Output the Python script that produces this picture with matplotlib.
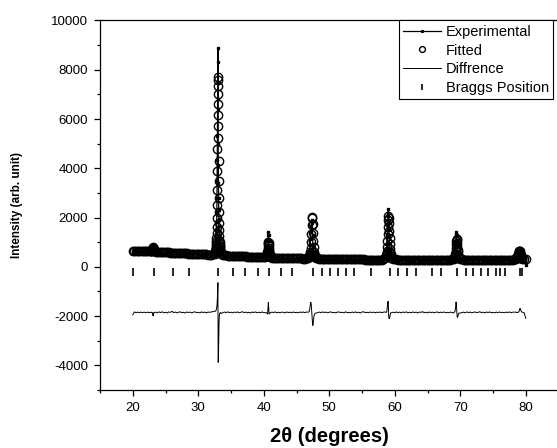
import numpy as np
import matplotlib
matplotlib.use("Agg")
import matplotlib.pyplot as plt
from matplotlib.ticker import MultipleLocator

plt.rcParams['font.family'] = ['Liberation Sans', 'DejaVu Sans']
plt.rcParams['axes.unicode_minus'] = False

# ---------------- data ----------------
# background stretches between the reflections, 0.25 deg step
bg_tt = [
    20.00, 20.25, 20.50, 20.75, 21.00, 21.25, 21.50, 21.75, 22.00, 22.25, 22.50, 22.75,
    23.50, 23.75, 24.00, 24.25, 24.50, 24.75, 25.00, 25.25, 25.50, 25.75, 26.00, 26.25,
    26.50, 26.75, 27.00, 27.25, 27.50, 27.75, 28.00, 28.25, 28.50, 28.75, 29.00, 29.25,
    29.50, 29.75, 30.00, 30.25, 30.50, 30.75, 31.00, 31.25, 31.50, 31.75, 32.00, 32.25, 32.50,
    33.50, 33.75, 34.00, 34.25, 34.50, 34.75, 35.00, 35.25, 35.50, 35.75, 36.00, 36.25,
    36.50, 36.75, 37.00, 37.25, 37.50, 37.75, 38.00, 38.25, 38.50, 38.75, 39.00, 39.25,
    39.50, 39.75, 40.00, 40.25,
    41.00, 41.25, 41.50, 41.75, 42.00, 42.25, 42.50, 42.75, 43.00, 43.25, 43.50, 43.75,
    44.00, 44.25, 44.50, 44.75, 45.00, 45.25, 45.50, 45.75, 46.00, 46.25, 46.50, 46.75,
    48.00, 48.25, 48.50, 48.75, 49.00, 49.25, 49.50, 49.75, 50.00, 50.25, 50.50, 50.75,
    51.00, 51.25, 51.50, 51.75, 52.00, 52.25, 52.50, 52.75, 53.00, 53.25, 53.50, 53.75,
    54.00, 54.25, 54.50, 54.75, 55.00, 55.25, 55.50, 55.75, 56.00, 56.25, 56.50, 56.75,
    57.00, 57.25, 57.50, 57.75, 58.00, 58.25, 58.50,
    59.50, 59.75, 60.00, 60.25, 60.50, 60.75, 61.00, 61.25, 61.50, 61.75, 62.00, 62.25,
    62.50, 62.75, 63.00, 63.25, 63.50, 63.75, 64.00, 64.25, 64.50, 64.75, 65.00, 65.25,
    65.50, 65.75, 66.00, 66.25, 66.50, 66.75, 67.00, 67.25, 67.50, 67.75, 68.00, 68.25,
    68.50, 68.75, 69.00,
    70.00, 70.25, 70.50, 70.75, 71.00, 71.25, 71.50, 71.75, 72.00, 72.25, 72.50, 72.75,
    73.00, 73.25, 73.50, 73.75, 74.00, 74.25, 74.50, 74.75, 75.00, 75.25, 75.50, 75.75,
    76.00, 76.25, 76.50, 76.75, 77.00, 77.25, 77.50, 77.75, 78.00, 78.25, 78.50,
    79.50, 79.75, 80.00,
]
bg_obs = [
    550, 668, 632, 655, 628, 650, 622, 641, 615, 640, 611, 635,
    633, 589, 624, 593, 622, 579, 595, 565, 601, 582, 621, 563,
    584, 546, 570, 581, 543, 557, 523, 563, 535, 552, 514, 541,
    551, 510, 526, 499, 533, 505, 518, 481, 514, 499, 512, 544, 585,
    486, 473, 482, 449, 479, 446, 460, 427, 458, 436, 457, 418,
    439, 455, 414, 433, 400, 421, 390, 425, 401, 423, 386, 405,
    383, 410, 383, 402,
    389, 392, 366, 394, 355, 373, 347, 374, 364, 336, 374, 348,
    362, 334, 368, 336, 350, 322, 355, 335, 355, 324, 374, 383,
    340, 329, 339, 309, 340, 313, 332, 298, 323, 336, 299, 316,
    291, 322, 327, 300, 313, 290, 330, 295, 306, 285, 317, 296,
    321, 288, 308, 277, 314, 324, 287, 303, 282, 314, 287, 307,
    274, 304, 289, 309, 280, 322, 367,
    366, 335, 295, 318, 287, 301, 269, 305, 285, 311, 273, 295,
    277, 306, 282, 298, 266, 302, 290, 318, 276, 295, 269, 303,
    279, 299, 267, 293, 305, 273, 297, 281, 307, 271, 291, 277,
    311, 297, 310,
    290, 289, 305, 272, 308, 280, 302, 268, 294, 306, 277, 297,
    315, 275, 300, 272, 306, 284, 311, 277, 295, 272, 304, 285,
    311, 282, 300, 279, 309, 290, 316, 287, 305, 323, 342,
    340, 300, 70,
]
bg_calc = [
    650, 647, 645, 642, 640, 637, 634, 632, 629, 626, 623, 628,
    621, 607, 604, 601, 597, 594, 590, 587, 583, 580, 576, 573,
    569, 566, 562, 559, 555, 552, 548, 545, 541, 538, 534, 531,
    527, 524, 520, 517, 513, 510, 506, 503, 499, 496, 492, 509, 535,
    531, 488, 464, 461, 457, 454, 450, 447, 444, 440, 437, 434,
    431, 427, 424, 421, 418, 415, 412, 409, 406, 403, 400, 397,
    395, 392, 389, 412,
    409, 377, 374, 372, 369, 367, 365, 362, 360, 358, 356, 354,
    352, 350, 348, 346, 344, 342, 341, 339, 337, 336, 359, 373,
    365, 339, 323, 321, 320, 319, 318, 316, 315, 314, 313, 312,
    311, 310, 309, 308, 307, 306, 306, 305, 304, 303, 303, 302,
    301, 300, 300, 299, 298, 298, 297, 297, 296, 296, 295, 295,
    294, 294, 293, 293, 292, 312, 347,
    376, 327, 309, 298, 295, 289, 289, 289, 289, 289, 289, 289,
    289, 288, 288, 288, 288, 288, 288, 288, 288, 287, 287, 287,
    287, 287, 287, 287, 287, 287, 287, 287, 287, 287, 287, 287,
    297, 305, 330,
    315, 299, 293, 288, 288, 288, 288, 288, 288, 288, 289, 289,
    289, 289, 290, 290, 290, 290, 291, 291, 291, 292, 292, 293,
    293, 294, 294, 295, 295, 296, 296, 297, 297, 311, 332,
    333, 313, 310,
]

# reflections, finer steps
p23_tt = [22.80, 22.85, 22.90, 22.95, 23.00, 23.05, 23.10, 23.15, 23.20, 23.25, 23.30, 23.35, 23.40]
p23_obs = [640, 641, 652, 690, 712, 706, 656, 703, 712, 680, 655, 634, 628]
p23_calc = [634, 643, 659, 688, 730, 774, 796, 773, 727, 684, 654, 636, 627]

p33_tt = [32.60, 32.62, 32.64, 32.66, 32.68, 32.70, 32.72, 32.74, 32.76, 32.78,
          32.80, 32.82, 32.84, 32.86, 32.88, 32.90, 32.92, 32.94, 32.96, 32.98,
          33.00, 33.02, 33.04, 33.06, 33.08, 33.10, 33.12, 33.14, 33.16, 33.18,
          33.20, 33.22, 33.24, 33.26, 33.28, 33.30, 33.32, 33.34, 33.36, 33.38, 33.40]
p33_obs = [625, 675, 725, 780, 835, 895, 965, 1055, 1165, 1320,
           1530, 1830, 2230, 2780, 3470, 4330, 5320, 6400, 7450, 8330,
           8900, 6800, 5000, 4150, 3400, 2800, 2300, 1930, 1650, 1440,
           1280, 1140, 1030, 945, 880, 820, 770, 725, 680, 635, 590]
p33_calc = [584, 629, 673, 723, 772, 822, 882, 958, 1052, 1186,
            1370, 1637, 1998, 2490, 3112, 3884, 4766, 5721, 6625, 7339,
            7694, 7571, 7020, 6181, 5242, 4309, 3476, 2782, 2226, 1798,
            1487, 1263, 1108, 995, 915, 849, 794, 743, 693, 643, 592]

p40_tt = [40.43, 40.46, 40.49, 40.52, 40.55, 40.58, 40.61, 40.64, 40.67, 40.70,
          40.73, 40.76, 40.79, 40.82, 40.85, 40.88, 40.91, 40.94, 40.97]
p40_obs = [414, 428, 443, 470, 519, 617, 789, 1033, 1296, 1422,
           1295, 1032, 787, 614, 516, 466, 438, 423, 408]
p40_calc = [436, 452, 479, 521, 585, 671, 776, 886, 981, 1022,
            980, 885, 774, 668, 582, 517, 474, 447, 430]

p47_tt = [46.80, 46.85, 46.90, 46.95, 47.00, 47.05, 47.10, 47.15, 47.20, 47.25, 47.30, 47.35,
          47.40, 47.45, 47.50, 47.55, 47.60, 47.65, 47.70, 47.75, 47.80, 47.85, 47.90]
p47_obs = [390, 405, 430, 470, 560, 700, 900, 1150, 1400, 1640, 1820, 1900,
           1760, 1300, 860, 620, 500, 440, 400, 380, 370, 365, 360]
p47_calc = [385, 395, 408, 426, 457, 506, 594, 750, 991, 1320, 1689, 1973,
            2004, 1756, 1392, 1051, 788, 618, 516, 457, 423, 404, 390]

p59_tt = [58.68, 58.72, 58.76, 58.80, 58.84, 58.88, 58.92, 58.96, 59.00, 59.04,
          59.08, 59.12, 59.16, 59.20, 59.24, 59.28, 59.32, 59.36, 59.40]
p59_obs = [427, 476, 561, 713, 963, 1321, 1700, 2050, 2351, 2172,
           1830, 1530, 1220, 940, 740, 610, 530, 475, 430]
p59_calc = [428, 472, 543, 652, 815, 1037, 1317, 1623, 1898, 2044,
            1993, 1769, 1470, 1171, 918, 726, 592, 504, 448]

p69_tt = [69.08, 69.12, 69.16, 69.20, 69.24, 69.28, 69.32, 69.36, 69.40, 69.44,
          69.48, 69.52, 69.56, 69.60, 69.64, 69.68, 69.72, 69.76, 69.80]
p69_obs = [359, 385, 430, 510, 642, 832, 1064, 1340, 1400, 1282,
           1064, 832, 642, 510, 430, 385, 359, 342, 333]
p69_calc = [352, 372, 406, 457, 534, 639, 771, 915, 1045, 1114,
            1090, 984, 843, 702, 582, 492, 429, 387, 361]

p79_tt = [78.55, 78.60, 78.65, 78.70, 78.75, 78.80, 78.85, 78.90, 78.95, 79.00,
          79.05, 79.10, 79.15, 79.20, 79.25, 79.30, 79.35, 79.40, 79.45]
p79_obs = [345, 358, 385, 405, 450, 492, 548, 600, 650, 700,
           740, 745, 700, 620, 540, 460, 410, 375, 350]
p79_calc = [343, 361, 381, 409, 448, 488, 540, 590, 624, 638,
            624, 590, 540, 488, 448, 409, 381, 361, 343]

bragg_pos = [20.05, 23.2, 26.1, 28.6, 33.05, 35.3, 37.15, 39.05, 40.85, 42.7, 44.3,
             47.5, 48.9, 50.15, 51.3, 52.55, 53.85, 56.3, 59.25, 60.55, 61.8, 63.2,
             65.75, 67.0, 69.55, 70.85, 72.0, 73.15, 74.3, 75.45, 76.05, 76.8,
             79.1, 79.4]
bragg_level = -220
diff_offset = -1850

# ---------------- assemble ----------------
tt = np.concatenate([bg_tt, p23_tt, p33_tt, p40_tt, p47_tt, p59_tt, p69_tt, p79_tt])
obs = np.concatenate([bg_obs, p23_obs, p33_obs, p40_obs, p47_obs, p59_obs, p69_obs, p79_obs])
calc = np.concatenate([bg_calc, p23_calc, p33_calc, p40_calc, p47_calc, p59_calc, p69_calc, p79_calc])
order = np.argsort(tt)
tt, obs, calc = tt[order], obs[order], calc[order]
diff = obs - calc + diff_offset

# ---------------- plot ----------------
fig = plt.figure(figsize=(5.57, 4.48), dpi=100)
ax = fig.add_axes([100 / 557, 58 / 448, 458.5 / 557, 369.5 / 448])

ax.plot(tt, obs, color='black', lw=0.9, marker='s', ms=1.8, mfc='black', mec='black',
        label='Experimental', zorder=3)
ax.plot(tt, calc, ls='none', marker='o', ms=6, mfc='none', mec='black', mew=1.0,
        label='Fitted', zorder=2)
ax.plot(tt, diff, color='black', lw=0.7, label='Diffrence', zorder=3)
ax.plot(bragg_pos, [bragg_level] * len(bragg_pos), ls='none', marker='|', ms=6,
        mew=1.2, color='black', label='Braggs Position')

ax.set_xlim(15, 85)
ax.set_ylim(-5000, 10000)
ax.xaxis.set_major_locator(MultipleLocator(10))
ax.xaxis.set_minor_locator(MultipleLocator(5))
ax.yaxis.set_major_locator(MultipleLocator(2000))
ax.yaxis.set_minor_locator(MultipleLocator(1000))
ax.tick_params(which='major', direction='out', length=4.5, width=0.9, labelsize=9.5, pad=4,
               top=False, right=False)
ax.tick_params(which='minor', direction='out', length=2.5, width=0.9, top=False, right=False)
ax.spines['right'].set_visible(False)
for s in ['left', 'bottom', 'top']:
    ax.spines[s].set_linewidth(0.9)

ax.set_xlabel('2\u03b8 (degrees)', fontsize=14.5, fontweight='bold')
ax.set_ylabel('Intensity (arb. unit)', fontsize=8.5, fontweight='bold')
ax.xaxis.set_label_coords(0.5, -0.1)
ax.yaxis.set_label_coords(-0.168, 0.5)

leg = ax.legend(loc='upper right', bbox_to_anchor=(553 / 557, 1 - 20.5 / 448),
                bbox_transform=fig.transFigure, borderaxespad=0, fontsize=10.5,
                frameon=True, fancybox=False, edgecolor='black', framealpha=1,
                handlelength=2.6, handletextpad=0.3, labelspacing=0.32, borderpad=0.3,
                markerscale=0.7)
leg.get_frame().set_linewidth(0.8)

plt.savefig('out.png', dpi=100)
